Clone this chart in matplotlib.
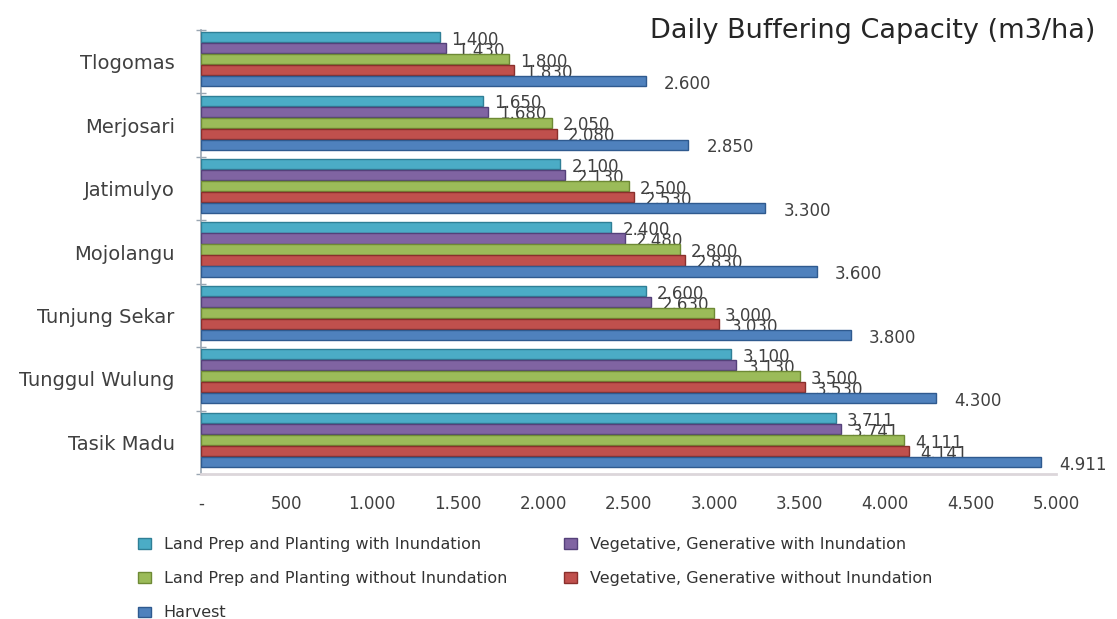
import numpy as np
import matplotlib.pyplot as plt
from matplotlib.ticker import FixedLocator

# categories, top to bottom as in the picture
villages = ['Tlogomas', 'Merjosari', 'Jatimulyo', 'Mojolangu',
            'Tunjung Sekar', 'Tunggul Wulung', 'Tasik Madu']

prep_inund = [1400, 1650, 2100, 2400, 2600, 3100, 3711]
veg_inund = [1430, 1680, 2130, 2480, 2630, 3130, 3741]
prep_dry = [1800, 2050, 2500, 2800, 3000, 3500, 4111]
veg_dry = [1830, 2080, 2530, 2830, 3030, 3530, 4141]
harvest = [2600, 2850, 3300, 3600, 3800, 4300, 4911]

series_names = ['Land Prep and Planting with Inundation',
                'Vegetative, Generative with Inundation',
                'Land Prep and Planting without Inundation',
                'Vegetative, Generative without Inundation',
                'Harvest']

xticks = [0, 500, 1000, 1500, 2000, 2500, 3000, 3500, 4000, 4500, 5000]
xticklabels = ['-', '500', '1.000', '1.500', '2.000', '2.500', '3.000',
               '3.500', '4.000', '4.500', '5.000']

colors = ['#4bacc6', '#8064a2', '#9bbb59', '#c0504d', '#4f81bd']
edges = ['#2f7f96', '#55417a', '#6e8a35', '#8a2f2c', '#2f5a8f']


def fmt(v):
    return f'{v:,}'.replace(',', '.')


fig = plt.figure(figsize=(11.17, 6.19), dpi=100)
ax = fig.add_axes([0.180, 0.2342, 0.7654, 0.7173])

y = np.arange(len(villages))
bh = 0.16
step = 0.1735
all_series = [prep_inund, veg_inund, prep_dry, veg_dry, harvest]

for i, vals in enumerate(all_series):
    pos = y + (i - 2) * step - 0.04
    ax.barh(pos, vals, height=bh, color=colors[i], edgecolor=edges[i],
            linewidth=1.0, label=series_names[i], zorder=3)
    for p, v in zip(pos, vals):
        dx = 13 if i == 4 else 8
        ax.annotate(fmt(v), (v, p), xytext=(dx, -2), textcoords='offset points',
                    ha='left', va='center', fontsize=12, color='#404040')

ax.set_xlim(0, 5000)
ax.set_ylim(len(villages) - 0.5, -0.5)
ax.set_xticks(xticks)
ax.set_xticklabels(xticklabels, fontsize=12, color='#404040')
ax.tick_params(axis='x', length=0, pad=15)

ax.set_yticks(y)
ax.set_yticklabels(villages, fontsize=14, color='#404040')
ax.tick_params(axis='y', which='major', length=0, pad=19)
ax.yaxis.set_minor_locator(FixedLocator(np.arange(-0.5, len(villages), 1.0)))
ax.tick_params(axis='y', which='minor', direction='inout', length=7,
               color='#9aa6b2', width=1)

for s in ['top', 'right']:
    ax.spines[s].set_visible(False)
ax.spines['left'].set_color('#9aa6b2')
ax.spines['left'].set_linewidth(1.2)
ax.spines['bottom'].set_color('#dcd6da')
ax.spines['bottom'].set_linewidth(2)

fig.text(0.781, 0.950, 'Daily Buffering Capacity (m3/ha)', ha='center', va='center',
         fontsize=19.5, color='#262626')

handles, labels = ax.get_legend_handles_labels()
order = [0, 2, 4, 1, 3]
leg = fig.legend([handles[k] for k in order], [labels[k] for k in order],
                 loc='upper left', bbox_to_anchor=(0.1235, 0.1325), ncol=2,
                 frameon=False, fontsize=11.5, handlelength=0.8, handleheight=0.62,
                 handletextpad=0.8, labelspacing=1.2, columnspacing=3.6,
                 borderaxespad=0, borderpad=0)
for t in leg.get_texts():
    t.set_color('#333333')

fig.savefig('out.png', dpi=100)
